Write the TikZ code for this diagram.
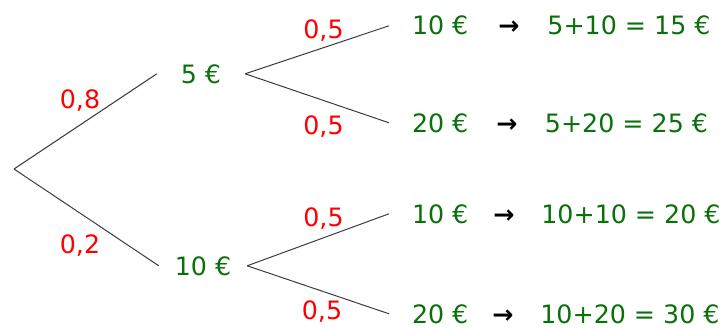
\documentclass[tikz,border=0pt]{standalone}
\usepackage{fontspec}
\setmainfont{DejaVu Sans}
\definecolor{money}{RGB}{10,112,10}
\definecolor{prob}{RGB}{255,0,0}
\definecolor{branch}{RGB}{60,60,60}
\begin{document}
\begin{tikzpicture}[x=1pt,y=-1pt,
  every node/.style={font=\fontsize{25.3}{30}\selectfont, inner sep=0pt},
  mid/.style={text=money, anchor=base, minimum width=88pt},
  leaf/.style={text=money, anchor=base west, outer xsep=23pt},
  res/.style={text=money, anchor=base},
  arr/.style={text=black, anchor=base, font=\fontsize{25.3}{30}\selectfont\bfseries},
  pr/.style={text=prob, anchor=base},
  br/.style={draw=branch, line width=1pt}]
\useasboundingbox (0,0) rectangle (728,329);
\coordinate (r) at (14,169);
% first level
\node[mid] (m1) at (201,83) {5 €};
\node[mid] (m2) at (203,275) {10 €};
\draw[br] (r) -- (m1.west);
\draw[br] (r) -- (m2.west);
\node[pr] (p1) at (80,108) {0,8};
\node[pr] (p2) at (80,253) {0,2};
% second level
\node[leaf] (l1) at (389,35) {10 €};
\node[leaf] (l2) at (389,132) {20 €};
\node[leaf] (l3) at (389,223) {10 €};
\node[leaf] (l4) at (389,323) {20 €};
\draw[br] (m1.east) -- (l1.west);
\draw[br] (m1.east) -- (l2.west);
\draw[br] (m2.east) -- (l3.west);
\draw[br] (m2.east) -- (l4.west);
\node[pr] (q1) at (323.5,39) {0,5};
\node[pr] (q2) at (323.5,134) {0,5};
\node[pr] (q3) at (323.5,226) {0,5};
\node[pr] (q4) at (322,319) {0,5};
% arrows
\node[arr] (a1) at (509,35) {→};
\node[arr] (a2) at (507,132) {→};
\node[arr] (a3) at (504,223) {→};
\node[arr] (a4) at (503,323) {→};
% results
\node[res] (s1) at (629,35) {5+10 = 15 €};
\node[res] (s2) at (626.5,132) {5+20 = 25 €};
\node[res] (s3) at (631,223) {10+10 = 20 €};
\node[res] (s4) at (630,323) {10+20 = 30 €};
\end{tikzpicture}
\end{document}
